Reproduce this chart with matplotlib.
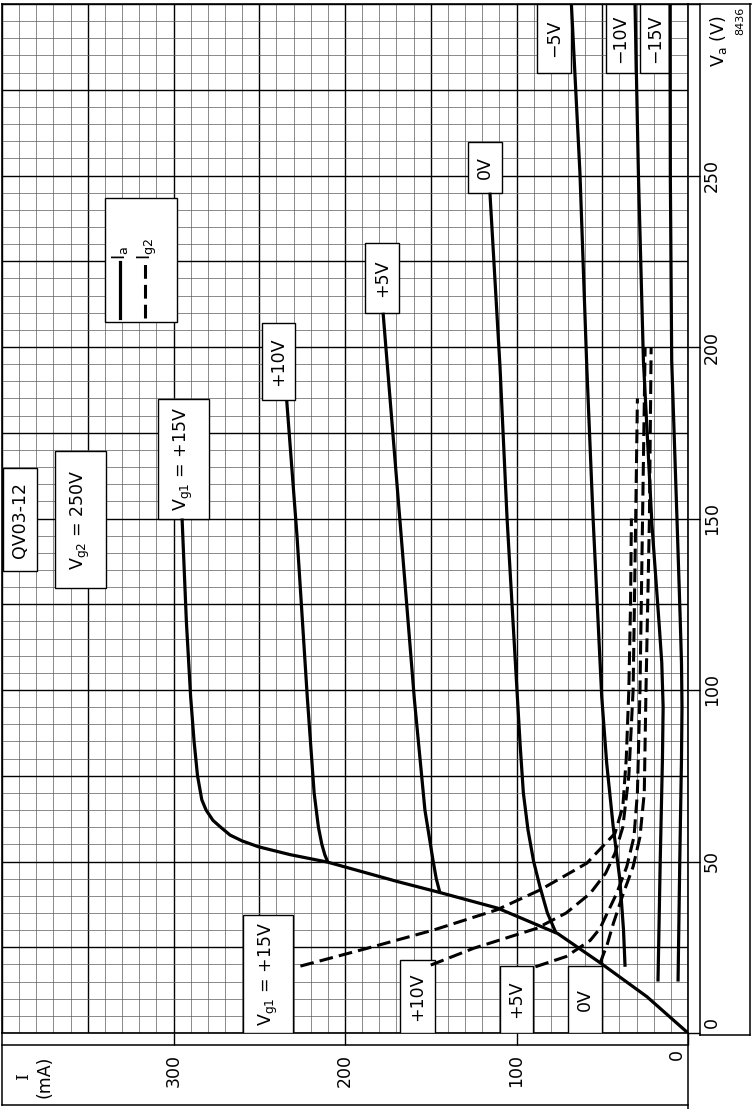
import numpy as np
import matplotlib
matplotlib.use('Agg')
import matplotlib.pyplot as plt
from matplotlib.patches import Rectangle
from matplotlib.lines import Line2D

plt.rcParams['font.family'] = ['DejaVu Sans']
plt.rcParams['mathtext.fontset'] = 'dejavusans'

W, H = 752, 1109

# anode current Ia (mA) against anode voltage Va (V), one pair per Vg1
va_ia_p15 = [0, 10.6, 20.4, 29, 36.4, 41, 44.1, 49.8, 52, 54.3, 56, 57.7, 60, 62, 65, 68, 75, 85, 98, 120, 150]
ia_p15 = [0, 24, 51, 76, 111, 145, 169, 210, 232, 250.5, 260, 267, 272.5, 277, 281, 283.5, 286, 288, 290, 292.5, 295]
va_ia_p10 = [49.8, 52, 55, 60, 70, 98, 145, 184.5]
ia_p10 = [210, 211.8, 213.5, 215.5, 218, 222, 228, 234]
va_ia_p5 = [40.8, 45, 50.4, 65, 97, 149.6, 210]
ia_p5 = [144.6, 146.8, 148.7, 153.4, 159.5, 168, 177.8]
va_ia_0 = [29.2, 35, 42.6, 50, 59.2, 70, 83.4, 98, 150, 194, 245]
ia_0 = [77, 82, 86.3, 90, 93.3, 96, 97.8, 99.5, 105.5, 109.6, 115.5]
va_ia_m5 = [19.3, 30, 44.6, 60.1, 78.6, 98, 150.6, 194, 250.7, 300]
ia_m5 = [36.7, 37.6, 39.7, 43.6, 47.4, 50.3, 55.4, 59, 63, 68]
va_ia_m10 = [15, 50, 80, 95, 108, 119, 148, 196, 250, 300]
ia_m10 = [17.5, 16.2, 14.9, 14.5, 15.3, 16.8, 21, 26, 28.9, 30.9]
va_ia_m15 = [15, 50, 80, 95, 108, 120, 148, 196, 250, 300]
ia_m15 = [5.8, 4.8, 3.8, 3.5, 3.8, 4.5, 6.3, 9.5, 10.3, 10.5]

# screen grid current Ig2 (mA)
va_ig_p15 = [19.5, 24.7, 30, 35.9, 41.7, 49.5, 58.2, 66, 80, 100, 125, 150]
ig_p15 = [226, 187, 148.5, 111.5, 86.3, 59, 42.6, 38, 36, 34.5, 33.5, 33]
va_ig_p10 = [19.8, 24.7, 30.5, 35, 40.7, 46.6, 52.4, 60, 75, 100, 150, 185]
ig_p10 = [150, 125, 88.3, 71, 57, 48, 42.6, 38, 34.5, 32, 30.5, 29.5]
va_ig_p5 = [19.3, 22.3, 27, 30.5, 40.7, 48.5, 57.2, 70, 100, 150, 200]
ig_p5 = [89, 71, 57, 51.3, 41.6, 35.7, 31.5, 29.5, 28, 26.5, 25]
va_ig_0 = [20.3, 26, 32, 40.7, 48.5, 57.2, 70, 100, 150, 200]
ig_0 = [51.3, 47, 43.5, 37.7, 32, 28, 25.5, 24.5, 22.5, 21.5]

i_ticks = [0, 100, 200, 300]
va_ticks = [0, 50, 100, 150, 200, 250]

ia_curves = [(ia_p15, va_ia_p15), (ia_p10, va_ia_p10), (ia_p5, va_ia_p5), (ia_0, va_ia_0),
             (ia_m5, va_ia_m5), (ia_m10, va_ia_m10), (ia_m15, va_ia_m15)]
ig_curves = [(ig_p15, va_ig_p15), (ig_p10, va_ig_p10), (ig_p5, va_ig_p5), (ig_0, va_ig_0)]


def fx(x):
    return x / W


def fy(y):
    return 1 - y / H


fig = plt.figure(figsize=(W / 100, H / 100), dpi=100)
ax = fig.add_axes([fx(2), fy(1033), fx(688) - fx(2), fy(4) - fy(1033)])
ax.set_xlim(400, 0)
ax.set_ylim(0, 300)

# graph paper
for v in np.arange(0, 401, 10):
    major = v % 50 == 0
    ax.axvline(v, color='black' if major else '#5c5c5c', lw=1.0 if major else 0.5, zorder=1)
for v in np.arange(0, 301, 5):
    major = v % 25 == 0
    ax.axhline(v, color='black' if major else '#5c5c5c', lw=1.0 if major else 0.5, zorder=1)

for s in ax.spines.values():
    s.set_linewidth(1.2)
ax.set_xticks(i_ticks)
ax.yaxis.tick_right()
ax.set_yticks(va_ticks + [300])
ax.tick_params(axis='both', direction='out', length=8.6, width=1.0,
               labelbottom=False, labelright=False, labelleft=False)

# curves
for ia, va in ia_curves:
    ax.plot(ia, va, color='black', lw=2.3, solid_capstyle='butt', solid_joinstyle='round', zorder=5)
for ig, va in ig_curves:
    ax.plot(ig, va, color='black', lw=2.2, dashes=(4.5, 2), zorder=5)

FS = 12.5


def box(i0, i1, v0, v1, text=None, fs=FS):
    ax.add_patch(Rectangle((min(i0, i1), min(v0, v1)), abs(i1 - i0), abs(v1 - v0),
                           facecolor='white', edgecolor='black', lw=1.0, zorder=3))
    if text:
        ax.text((i0 + i1) / 2, (v0 + v1) / 2, text, rotation=90, ha='center', va='center',
                fontsize=fs, zorder=6)


box(399.4, 379.6, 134.7, 164.7, 'QV03-12')
box(369.0, 339.4, 129.7, 169.7, r'V$_{\mathrm{g2}}$ = 250V')
box(309.0, 279.3, 149.9, 184.8, r'V$_{\mathrm{g1}}$ = +15V')
box(248.4, 229.2, 184.5, 207.0, '+10V')
box(188.3, 168.5, 209.9, 230.3, '+5V')
box(128.3, 108.5, 244.9, 259.8, '0V')
box(88.0, 68.2, 279.9, 300, '\u22125V')
box(47.8, 30.9, 279.9, 300, '\u221210V')
box(28.0, 10.5, 279.9, 300, '\u221215V')
box(259.5, 230.3, 0, 34.4, r'V$_{\mathrm{g1}}$ = +15V')
box(168.0, 147.5, 0, 21.3, '+10V')
box(109.6, 90.4, 0, 19.5, '+5V')
box(70.0, 50.1, 0, 19.5, '0V')

# legend (drawn rotated like the rest of the sheet)
box(339.9, 298.0, 207.3, 243.4)
ax.add_line(Line2D([331.2, 331.2], [208.5, 224.8], color='black', lw=2.3, zorder=6))
ax.add_line(Line2D([316.6, 316.6], [208.5, 224.8], color='black', lw=2.2, dashes=(4.5, 2), zorder=6))
ax.text(331.2, 225.5, r'I$_{\mathrm{a}}$', rotation=90, ha='center', va='bottom', fontsize=13, zorder=6)
ax.text(315.5, 225.5, r'I$_{\mathrm{g2}}$', rotation=90, ha='center', va='bottom', fontsize=13, zorder=6)

# axis labels
for v in i_ticks[1:]:
    ax.text(v, -10.8, str(v), rotation=90, ha='center', va='center', fontsize=FS, clip_on=False)
ax.text(6.4, -6.3, '0', rotation=90, ha='center', va='center', fontsize=FS, clip_on=False)
for v in va_ticks[1:]:
    ax.text(-14.0, v, str(v), rotation=90, ha='center', va='center', fontsize=FS, clip_on=False)
ax.text(-14.0, 3.2, '0', rotation=90, ha='center', va='center', fontsize=FS, clip_on=False)
ax.text(-17.5, 289, r'V$_{\mathrm{a}}$ (V)', rotation=90, ha='center', va='center', fontsize=FS, clip_on=False)
ax.text(-30.5, 295, '8436', rotation=90, ha='center', va='center', fontsize=8, clip_on=False)
ax.text(387.5, -12.4, 'I', rotation=90, ha='center', va='center', fontsize=FS, clip_on=False,
        family='DejaVu Serif')
ax.text(375.0, -12.8, '(mA)', rotation=90, ha='center', va='center', fontsize=FS, clip_on=False)


def frame(xs, ys, lw=1.1):
    fig.add_artist(Line2D([fx(x) for x in xs], [fy(y) for y in ys], color='black', lw=lw))


# frame of the sheet around the graph
frame([688, 751], [4, 4])
frame([700, 700], [4, 1035])
frame([750, 750], [4, 1035])
frame([700, 750], [1035, 1035])
frame([2, 688], [1045, 1045])
frame([2, 2], [1033, 1105])
frame([2, 688], [1105, 1105])
frame([688, 688], [1033, 1109])

fig.savefig('out.png', dpi=100)
